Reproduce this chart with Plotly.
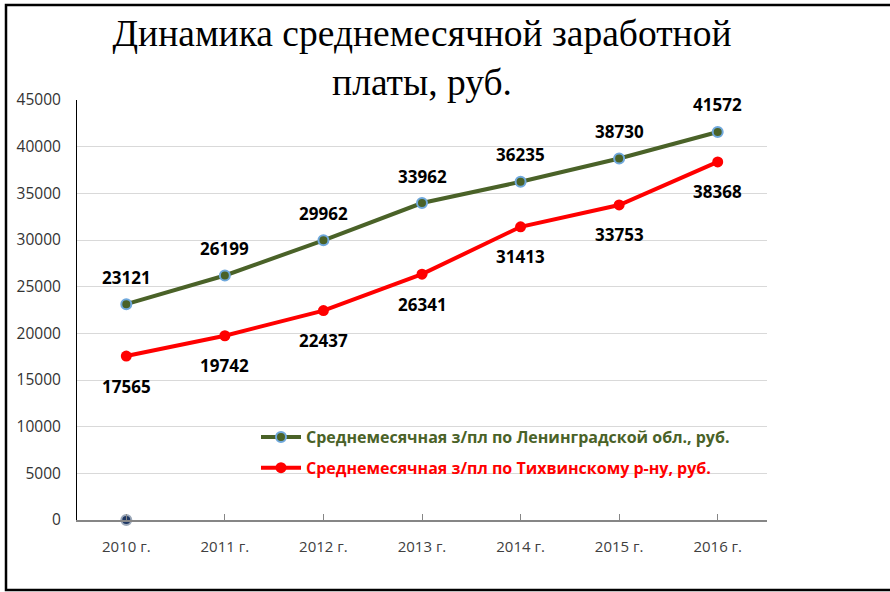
import plotly.graph_objects as go

# ---- data ----
years = ["2010 г.", "2011 г.", "2012 г.", "2013 г.", "2014 г.", "2015 г.", "2016 г."]
lenobl = [23121, 26199, 29962, 33962, 36235, 38730, 41572]
tikhvin = [17565, 19742, 22437, 26341, 31413, 33753, 38368]
extra_years = ["2010 г."]
extra_vals = [0]
name_lenobl = "Среднемесячная з/пл по Ленинградской обл., руб."
name_tikhvin = "Среднемесячная з/пл по Тихвинскому р-ну, руб."
title_text = "Динамика среднемесячной заработной<br>платы, руб."
y_ticks = list(range(0, 45001, 5000))

GREEN = "#4A6228"
RED = "#FF0000"
W, H = 890, 592
# plot area in page pixels: x 77-767, y 100-520
ML = 77
MT = 100
PW, PH = 690, 420
MR = W - ML - PW
MB = H - MT - PH


def px_x(p):
    return (p - ML) / PW


def px_y(p):
    return (MT + PH - p) / PH


xi = list(range(len(years)))
xe = [years.index(y) for y in extra_years]

fig = go.Figure()
fig.add_trace(go.Scatter(
    x=xi, y=lenobl, mode="lines+markers",
    name=f"<b><span style='color:{GREEN}'>{name_lenobl}</span></b>",
    line=dict(color=GREEN, width=4),
    marker=dict(size=10, color=GREEN, line=dict(color="#6FA8DC", width=2)),
    legendgroup="a",
))
fig.add_trace(go.Scatter(
    x=xi, y=tikhvin, mode="lines+markers",
    name=f"<b><span style='color:{RED}'>{name_tikhvin}</span></b>",
    line=dict(color=RED, width=4),
    marker=dict(size=11, color=RED),
    legendgroup="b",
))
fig.add_trace(go.Scatter(
    x=xe, y=extra_vals, mode="markers", showlegend=False, cliponaxis=False,
    marker=dict(size=10, color="#1F3864", line=dict(color="#9DA9B9", width=2)),
))

LABEL_FONT = dict(family="Open Sans, DejaVu Sans, sans-serif", size=17, color="#000000")
for x, v in zip(xi, lenobl):
    fig.add_annotation(x=x, y=v, text=f"<b>{v}</b>", showarrow=False,
                       yshift=27, font=LABEL_FONT)
for x, v in zip(xi, tikhvin):
    fig.add_annotation(x=x, y=v, text=f"<b>{v}</b>", showarrow=False,
                       yshift=-30, font=LABEL_FONT)

# outer frame (right edge off-page)
fig.add_shape(type="rect", xref="paper", yref="paper",
              x0=px_x(6), x1=px_x(910), y0=px_y(590), y1=px_y(5),
              line=dict(color="#000000", width=2.5), layer="above")

fig.update_layout(
    width=W, height=H,
    margin=dict(l=ML, r=MR, t=MT, b=MB),
    paper_bgcolor="#FFFFFF", plot_bgcolor="#FFFFFF",
    title=dict(text=title_text, x=0.5, xref="paper", xanchor="center",
               y=1 - 46 / H, yref="container", yanchor="middle",
               font=dict(family="Liberation Serif, Times New Roman, serif", size=37.5, color="#000000")),
    showlegend=True,
    legend=dict(x=px_x(256), y=px_y(420), xanchor="left", yanchor="top",
                bgcolor="rgba(0,0,0,0)", itemwidth=40, tracegroupgap=7,
                font=dict(family="Open Sans, DejaVu Sans, sans-serif", size=16)),
    xaxis=dict(range=[-0.5, 6.5], tickvals=xi + [6.5], ticktext=years + [""],
               showgrid=False, zeroline=False, showline=True,
               linecolor="#868686", linewidth=1.5,
               ticks="inside", ticklen=6, tickcolor="#868686", tickwidth=1,
               ticklabelstandoff=12,
               tickfont=dict(family="Open Sans, DejaVu Sans, sans-serif", size=15, color="#404040")),
    yaxis=dict(range=[0, 45000], tickvals=y_ticks, ticktext=[str(v) for v in y_ticks],
               showgrid=True, gridcolor="#D9D9D9", gridwidth=1,
               zeroline=False, showline=True, linecolor="#000000", linewidth=1,
               ticks="", ticklabelstandoff=12,
               tickfont=dict(family="Open Sans, DejaVu Sans, sans-serif", size=15.5, color="#333333")),
)

fig.write_html("out.html", config={"displayModeBar": False},
               post_script="document.body.style.margin='0';document.body.style.overflow='hidden';")
